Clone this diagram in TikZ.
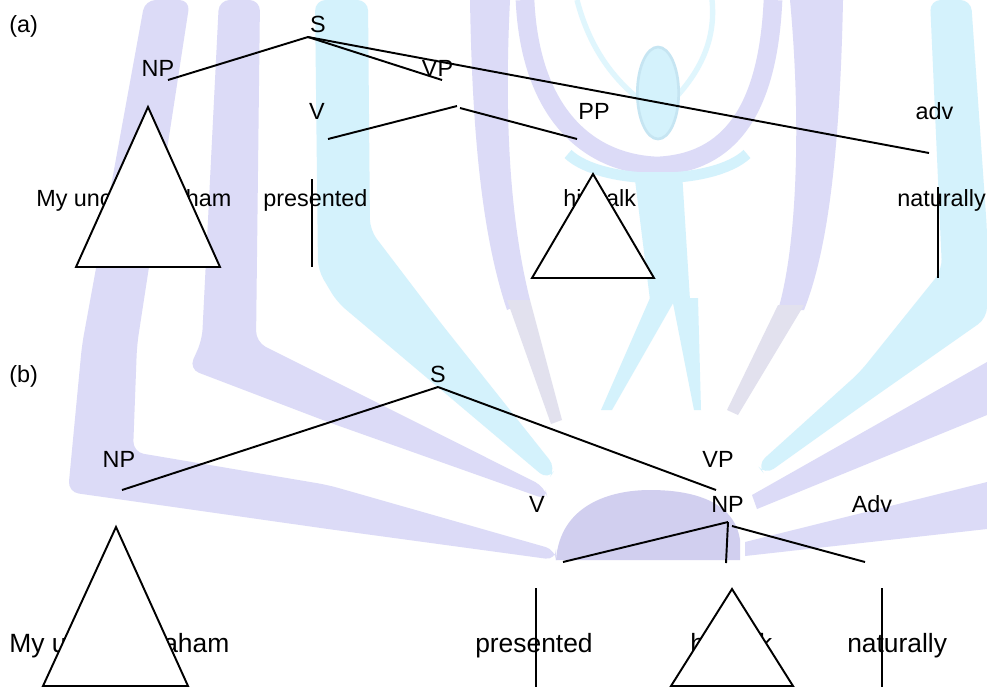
\documentclass[tikz,border=0pt]{standalone}
\usepackage{fontspec}
\setmainfont{Liberation Sans}
\definecolor{wmlavbase}{RGB}{214,212,245}
\definecolor{wmcyanbase}{RGB}{204,240,251}
\colorlet{wmlav}{wmlavbase!85!white}
\definecolor{wmdome}{RGB}{209,207,239}
\colorlet{wmcyan}{wmcyanbase!85!white}
\colorlet{wmcyanpale}{wmcyanbase!60!white}
\definecolor{wmcyanedge}{RGB}{198,229,242}
\definecolor{wmgrey}{RGB}{226,225,238}
\tikzset{
  lbl/.style={inner sep=0pt, anchor=base, font=\fontsize{17.55}{21}\selectfont},
  wordA/.style={inner sep=0pt, anchor=base west, font=\fontsize{17.55}{21}\selectfont},
  wordB/.style={inner sep=0pt, anchor=base west, font=\fontsize{19.8}{24}\selectfont},
  branch/.style={line width=1.45pt, line cap=butt},
  roof/.style={line width=1.45pt, fill=white, line join=miter},
}
\begin{document}
\begin{tikzpicture}[x=0.75pt, y=-0.75pt]
\useasboundingbox (0,0) rectangle (987,687);
\fill[white] (0,0) rectangle (987,687);

% ---------- faint logo in the background ----------
% left bands folding into rays towards the centre
\fill[wmlav, rounded corners=8] (145,0) -- (190,0) -- (137,345) -- (133,452) -- (328,485)
  -- (556,550) -- (556,560) -- (328,529) -- (68,492) -- (82,345) -- cycle;
\fill[wmlav, rounded corners=8] (219,0) -- (260,0) -- (256,342) -- (328,378) -- (545,487)
  -- (548,500) -- (328,422) -- (189,369) -- (202,340) -- cycle;
\fill[wmcyan, rounded corners=8] (315,0) -- (368,0) -- (370,230) -- (440,322) -- (556,468)
  -- (548,480) -- (420,372) -- (337,302) -- (318,270) -- cycle;
% outer crescents of the figure
\fill[wmlav] (470,0) -- (510,0) .. controls (504,120) and (510,220) .. (530,300)
  -- (507,310) .. controls (480,230) and (472,120) .. (470,0) -- cycle;
\fill[wmgrey] (507,300) -- (530,300) -- (562,420) -- (551,424) -- cycle;
\fill[wmlav] (790,0) -- (843,0) .. controls (840,150) and (828,250) .. (804,310)
  -- (778,310) .. controls (796,250) and (802,130) .. (790,0) -- cycle;
\fill[wmgrey] (778,305) -- (804,305) -- (738,415) -- (727,410) -- cycle;
% raised arms and head
\draw[wmlav, line width=14pt] (525,0) .. controls (530,110) and (585,163) .. (657,166)
  .. controls (730,163) and (768,110) .. (773,0);
\draw[wmcyan, line width=8pt] (568,154) .. controls (602,186) and (713,186) .. (747,154);
\draw[wmcyanpale, line width=4pt] (577,0) .. controls (590,50) and (615,80) .. (640,100);
\draw[wmcyanpale, line width=4pt] (712,0) .. controls (716,40) and (700,70) .. (678,95);
\fill[wmcyan] (634,172) -- (682,172) -- (690,300) -- (650,300) -- cycle;
\fill[wmcyan] (650,298) -- (676,298) -- (612,410) -- (601,410) -- cycle;
\fill[wmcyan] (672,298) -- (698,298) -- (701,410) -- (694,410) -- cycle;
\fill[wmcyan, draw=wmcyanedge, line width=2pt] (658,93) ellipse [x radius=15.5pt, y radius=34.5pt];
% right bands and rays
\fill[wmcyan, rounded corners=8] (930,0) -- (971,0) -- (987,230) -- (987,318) -- (870,400)
  -- (765,475) -- (757,465) -- (860,372) -- (942,270) -- cycle;
\fill[wmlav] (987,362) -- (987,415) -- (757,509) -- (752,495) -- cycle;
\fill[wmlav] (987,482) -- (987,529) -- (745,556) -- (745,542) -- cycle;
% book dome
\fill[wmdome] (556,560) .. controls (560,505) and (610,490) .. (650,490)
  .. controls (700,490) and (735,505) .. (740,540) -- (740,560) -- cycle;

% ---------- tree (a) ----------
\node[wordA] (atag) at (9,32) {(a)};
\node[lbl] (aS) at (318,32) {S};
\node[lbl] (aNP) at (158,76) {NP};
\node[lbl] (aVP) at (437.5,76) {VP};
\node[lbl] (aV) at (317,119) {V};
\node[lbl] (aPP) at (594,119) {PP};
\node[lbl] (aAdv) at (934.5,119) {adv};
\node[wordA] (aw1) at (36,206) {My uncle Abraham};
\node[wordA] (aw2) at (263,206) {presented};
\node[wordA] (aw3) at (563,206) {his talk};
\node[wordA] (aw4) at (897,206) {naturally};

\coordinate (aS-foot) at (308,37);
\coordinate (aNP-top) at (168,80);
\coordinate (aVP-top) at (442,80);
\coordinate (aAdv-top) at (929,153);
\coordinate (aVP-foot) at (457,106);
\coordinate (aVP-foot2) at (460,108);
\coordinate (aV-top) at (328,139);
\coordinate (aPP-top) at (577,139);
\coordinate (aV-foot) at (312,179);
\coordinate (aw2-foot) at (312,267);
\coordinate (aAdv-foot) at (938,187);
\coordinate (aw4-foot) at (938,278);

\draw[branch] (aS-foot) -- (aNP-top);
\draw[branch] (aS-foot) -- (aVP-top);
\draw[branch] (aS-foot) -- (aAdv-top);
\draw[branch] (aVP-foot) -- (aV-top);
\draw[branch] (aVP-foot2) -- (aPP-top);
\draw[roof] (148,107) -- (220,267) -- (76,267) -- cycle;
\draw[branch] (aV-foot) -- (aw2-foot);
\draw[roof] (593,174) -- (654,278) -- (532,278) -- cycle;
\draw[branch] (aAdv-foot) -- (aw4-foot);

% ---------- tree (b) ----------
\node[wordA] (btag) at (9,382) {(b)};
\node[lbl] (bS) at (438,382) {S};
\node[lbl] (bNP) at (119,467) {NP};
\node[lbl] (bVP) at (718,467) {VP};
\node[lbl] (bV) at (537,512) {V};
\node[lbl] (bNP2) at (727.5,512) {NP};
\node[lbl] (bAdv) at (872,512) {Adv};
\node[wordB] (bw1) at (9,652) {My uncle Abraham};
\node[wordB] (bw2) at (475,652) {presented};
\node[wordB] (bw3) at (690,652) {his talk};
\node[wordB] (bw4) at (847,652) {naturally};

\coordinate (bS-foot) at (438,387);
\coordinate (bNP-top) at (122,490);
\coordinate (bVP-top) at (716,490);
\coordinate (bNP2-foot) at (728,522);
\coordinate (bNP2-foot2) at (732,526);
\coordinate (bV-top) at (563,562);
\coordinate (bMid-top) at (726,563);
\coordinate (bAdv-top) at (865,562);
\coordinate (bV-foot) at (536,588);
\coordinate (bw2-foot) at (536,687);
\coordinate (bAdv-foot) at (882,588);
\coordinate (bw4-foot) at (882,687);

\draw[branch] (bS-foot) -- (bNP-top);
\draw[branch] (bS-foot) -- (bVP-top);
\draw[branch] (bNP2-foot) -- (bV-top);
\draw[branch] (bNP2-foot) -- (bMid-top);
\draw[branch] (bNP2-foot2) -- (bAdv-top);
\draw[roof] (116,527) -- (188,686) -- (43,686) -- cycle;
\draw[branch] (bV-foot) -- (bw2-foot);
\draw[roof] (732,589) -- (793,686) -- (671,686) -- cycle;
\draw[branch] (bAdv-foot) -- (bw4-foot);
\end{tikzpicture}
\end{document}
